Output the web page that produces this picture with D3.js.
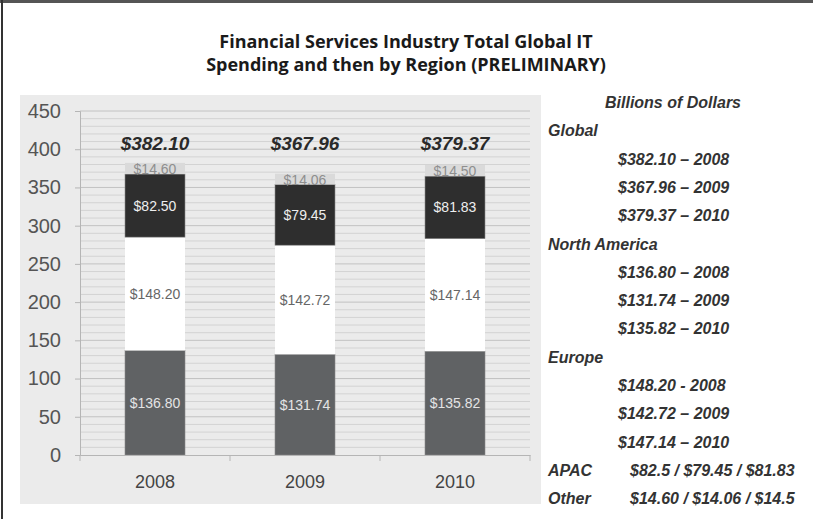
<!DOCTYPE html>
<html>
<head>
<meta charset="utf-8">
<script src="https://cdn.jsdelivr.net/npm/d3@7"></script>
<style>
  body { margin: 0; background: #fff; }
  svg { display: block; }
  .side { font-family: "Liberation Sans", Arial, sans-serif; font-weight: bold; font-style: italic; font-size: 16px; fill: #333; }
</style>
</head>
<body>
<script>
// chart values
let years = ['2008', '2009', '2010'];
let northAmerica = [136.80, 131.74, 135.82];
let europe = [148.20, 142.72, 147.14];
let apac = [82.50, 79.45, 81.83];
let other = [14.60, 14.06, 14.50];
let totals = [382.10, 367.96, 379.37];
let yTicks = [0, 50, 100, 150, 200, 250, 300, 350, 400, 450];

let sideLines = [
  ['head', 'Billions of Dollars'],
  ['cat', 'Global'],
  ['val', '$382.10 \u2013 2008'],
  ['val', '$367.96 \u2013 2009'],
  ['val', '$379.37 \u2013 2010'],
  ['cat', 'North America'],
  ['val', '$136.80 \u2013 2008'],
  ['val', '$131.74 \u2013 2009'],
  ['val', '$135.82 \u2013 2010'],
  ['cat', 'Europe'],
  ['val', '$148.20  - 2008'],
  ['val', '$142.72 \u2013 2009'],
  ['val', '$147.14 \u2013 2010'],
  ['row', 'APAC', '$82.5 / $79.45 / $81.83'],
  ['row', 'Other', '$14.60 / $14.06 / $14.5']
];

let w = 813, h = 519;

let svg = d3.select('body').append('svg')
  .attr('width', w)
  .attr('height', h);

// frame (top and left edges only)
svg.append('rect').attr('x', 0).attr('y', 0).attr('width', w).attr('height', 3).attr('fill', '#555');
svg.append('rect').attr('x', 1).attr('y', 0).attr('width', 2).attr('height', h).attr('fill', '#333');

// title
let title = svg.append('text')
  .attr('text-anchor', 'middle')
  .style('font-family', '"Open Sans", sans-serif')
  .style('font-weight', 'bold')
  .style('font-size', '18px')
  .attr('fill', '#1a1a1a');
title.append('tspan').attr('x', 406).attr('y', 48).text('Financial Services Industry Total Global IT');
title.append('tspan').attr('x', 406).attr('y', 71).text('Spending and then by Region (PRELIMINARY)');

// gray panel
svg.append('rect')
  .attr('x', 20).attr('y', 95)
  .attr('width', 521).attr('height', 409)
  .attr('fill', '#ebebeb');

let plotLeft = 80, plotRight = 530, plotTop = 111, plotBottom = 455;

let x = d3.scaleBand()
  .domain(years)
  .range([plotLeft, plotRight])
  .paddingInner(0.6)
  .paddingOuter(0.3);

let y = d3.scaleLinear()
  .domain([0, 450])
  .range([plotBottom, plotTop]);

// minor grid every 10
svg.append('g')
  .selectAll('line')
  .data(d3.range(10, 451, 10))
  .enter()
  .append('line')
  .attr('x1', plotLeft).attr('x2', plotRight)
  .attr('y1', d => y(d)).attr('y2', d => y(d))
  .attr('stroke', d => d % 50 === 0 ? '#c2c2c2' : '#d3d3d3')
  .attr('stroke-width', 1);

// stacked bars
let table = years.map((yr, i) => ({
  year: yr, na: northAmerica[i], eu: europe[i], apac: apac[i], other: other[i]
}));
let keys = ['na', 'eu', 'apac', 'other'];
let fills = { na: '#606264', eu: '#ffffff', apac: '#2e2e2e', other: '#dadada' };
let textFill = { na: '#e4e4e4', eu: '#666666', apac: '#eeeeee', other: '#8e8e8e' };
let stack = d3.stack().keys(keys)(table);

stack.forEach(layer => {
  svg.append('g')
    .selectAll('rect')
    .data(layer)
    .enter()
    .append('rect')
    .attr('x', d => x(d.data.year))
    .attr('width', x.bandwidth())
    .attr('y', d => y(d[1]))
    .attr('height', d => y(d[0]) - y(d[1]))
    .attr('fill', fills[layer.key])
    .attr('stroke', layer.key === 'eu' ? 'none' : '#8a8a8a')
    .attr('stroke-width', layer.key === 'other' ? 0 : 0.6);
});

// segment labels
stack.forEach(layer => {
  svg.append('g')
    .selectAll('text')
    .data(layer)
    .enter()
    .append('text')
    .attr('x', d => x(d.data.year) + x.bandwidth() / 2)
    .attr('y', d => layer.key === 'other' ? y(d[1]) + 11 : (y(d[0]) + y(d[1])) / 2 + 5)
    .attr('text-anchor', 'middle')
    .style('font-family', '"Liberation Sans", Arial, sans-serif')
    .style('font-size', '14px')
    .attr('fill', textFill[layer.key])
    .text(d => '$' + d.data[layer.key].toFixed(2));
});

// totals
svg.append('g')
  .selectAll('text')
  .data(totals)
  .enter()
  .append('text')
  .attr('x', (d, i) => x(years[i]) + x.bandwidth() / 2)
  .attr('y', y(400) + 1)
  .attr('text-anchor', 'middle')
  .style('font-family', '"Liberation Sans", Arial, sans-serif')
  .style('font-weight', 'bold')
  .style('font-style', 'italic')
  .style('font-size', '19px')
  .attr('fill', '#2a2a2a')
  .text(d => '$' + d.toFixed(2));

// y axis
let yAxis = svg.append('g')
  .attr('transform', `translate(${plotLeft},0)`)
  .call(d3.axisLeft(y).tickValues(yTicks).tickSize(5).tickPadding(14));
yAxis.select('.domain').attr('stroke', '#b5b5b5');
yAxis.selectAll('.tick line').attr('stroke', '#b5b5b5');
yAxis.selectAll('.tick text')
  .style('font-family', '"Liberation Sans", Arial, sans-serif')
  .style('font-size', '20px')
  .attr('fill', '#555');

// x axis
let xAxis = svg.append('g')
  .attr('transform', `translate(0,${plotBottom})`)
  .call(d3.axisBottom(x).tickSize(0).tickPadding(20));
xAxis.select('.domain').attr('stroke', '#b5b5b5');
xAxis.selectAll('.tick text')
  .style('font-family', '"Liberation Sans", Arial, sans-serif')
  .style('font-size', '18px')
  .attr('fill', '#444');
// separators between categories
svg.append('g')
  .selectAll('line')
  .data(years)
  .enter()
  .append('line')
  .attr('x1', d => x(d) - x.step() * 0.3)
  .attr('x2', d => x(d) - x.step() * 0.3)
  .attr('y1', plotBottom).attr('y2', plotBottom + 6)
  .attr('stroke', '#b5b5b5');
svg.append('line')
  .attr('x1', plotRight).attr('x2', plotRight)
  .attr('y1', plotBottom).attr('y2', plotBottom + 6)
  .attr('stroke', '#b5b5b5');

// side notes
let side = svg.append('g');

sideLines.forEach((ln, i) => {
  let ly = 108 + i * 28.3;
  if (ln[0] === 'head') {
    side.append('text').attr('class', 'side').attr('x', 673).attr('y', ly).attr('text-anchor', 'middle').text(ln[1]);
  } else if (ln[0] === 'cat') {
    side.append('text').attr('class', 'side').attr('x', 548).attr('y', ly).text(ln[1]);
  } else if (ln[0] === 'val') {
    side.append('text').attr('class', 'side').attr('x', 618).attr('y', ly).text(ln[1]);
  } else {
    side.append('text').attr('class', 'side').attr('x', 548).attr('y', ly).text(ln[1]);
    side.append('text').attr('class', 'side').attr('x', 630).attr('y', ly).text(ln[2]);
  }
});
</script>
</body>
</html>
